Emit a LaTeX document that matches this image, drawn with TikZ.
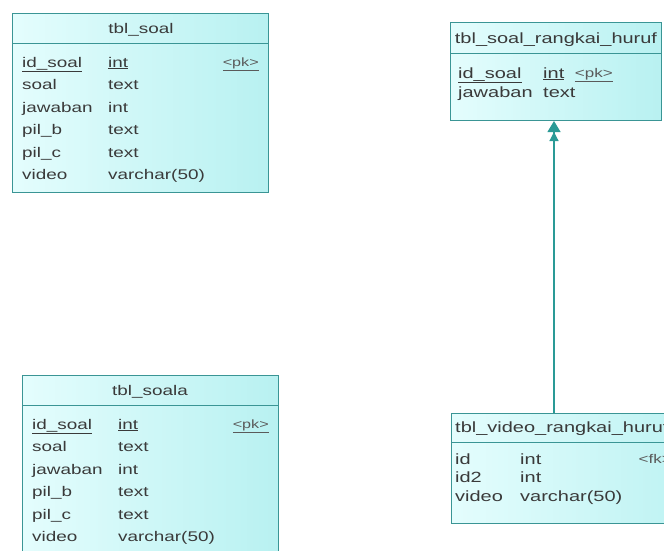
\documentclass[tikz,border=0pt]{standalone}
\usepackage{fontspec}
\setmainfont{Liberation Sans}[FakeStretch=1.35]
\usetikzlibrary{arrows.meta}
\definecolor{bordc}{HTML}{3A9595}
\definecolor{linec}{HTML}{2A9A96}
\definecolor{fillL}{HTML}{E4FDFD}
\definecolor{fillR}{HTML}{B8F1F1}
\definecolor{txtc}{HTML}{3A3A3A}
\definecolor{pkc}{HTML}{5A5A5A}
\begin{document}
\begin{tikzpicture}[x=1pt,y=-1pt,
  tbox/.style={draw=bordc, line width=1pt, left color=fillL, right color=fillR, anchor=north west, inner sep=0pt},
  sepline/.style={draw=bordc, line width=1pt},
  lab/.style={anchor=base west, inner sep=0pt, text=txtc, font=\fontsize{14}{16}\selectfont},
  labr/.style={anchor=base east, inner sep=0pt, text=pkc, font=\fontsize{12}{14}\selectfont},
  ttl/.style={anchor=base, inner sep=0pt, text=txtc, font=\fontsize{14}{16}\selectfont},
  rlab/.style={lab, font=\fontsize{14.8}{16}\selectfont},
  rlabr/.style={labr, font=\fontsize{12.6}{14}\selectfont},
  rttl/.style={ttl, font=\fontsize{14.8}{16}\selectfont},
  conn/.style={draw=linec, line width=1.2pt, -{Triangle[length=9pt,width=9pt,fill=linec]Triangle[length=11pt,width=13pt,fill=linec]}}
]
\useasboundingbox (0,0) rectangle (664,550);
\clip (0,0) rectangle (664,550);

% ---------- tbl_soal ----------
\node[tbox, minimum width=256pt, minimum height=179pt] (s) at (12,13) {};
\draw[sepline] (12,43) -- (268,43);
\node[ttl] (st) at (141,33) {tbl\_soal};
\node[lab] (s1a) at (22,67) {\underline{id\_soal}};
\node[lab] (s1b) at (108,67) {\underline{int}};
\node[labr] (s1c) at (259,66) {\underline{<pk>}};
\node[lab] (s2a) at (22,89.5) {soal};
\node[lab] (s2b) at (108,89.5) {text};
\node[lab] (s3a) at (22,112) {jawaban};
\node[lab] (s3b) at (108,112) {int};
\node[lab] (s4a) at (22,134.5) {pil\_b};
\node[lab] (s4b) at (108,134.5) {text};
\node[lab] (s5a) at (22,157) {pil\_c};
\node[lab] (s5b) at (108,157) {text};
\node[lab] (s6a) at (22,179.5) {video};
\node[lab] (s6b) at (108,179.5) {varchar(50)};

% ---------- tbl_soala ----------
\node[tbox, minimum width=256pt, minimum height=190pt] (a) at (22,375) {};
\draw[sepline] (22,405) -- (278,405);
\node[ttl] (at) at (150,395) {tbl\_soala};
\node[lab] (a1a) at (32,429) {\underline{id\_soal}};
\node[lab] (a1b) at (118,429) {\underline{int}};
\node[labr] (a1c) at (269,428) {\underline{<pk>}};
\node[lab] (a2a) at (32,451.5) {soal};
\node[lab] (a2b) at (118,451.5) {text};
\node[lab] (a3a) at (32,474) {jawaban};
\node[lab] (a3b) at (118,474) {int};
\node[lab] (a4a) at (32,496.5) {pil\_b};
\node[lab] (a4b) at (118,496.5) {text};
\node[lab] (a5a) at (32,519) {pil\_c};
\node[lab] (a5b) at (118,519) {text};
\node[lab] (a6a) at (32,541.5) {video};
\node[lab] (a6b) at (118,541.5) {varchar(50)};

% ---------- tbl_soal_rangkai_huruf ----------
\node[tbox, minimum width=211pt, minimum height=98pt] (r) at (450,22) {};
\draw[sepline] (450,53) -- (661,53);
\node[rttl] (rt) at (556,43) {tbl\_soal\_rangkai\_huruf};
\node[rlab] (r1a) at (458,78) {\underline{id\_soal}};
\node[rlab] (r1b) at (543,78) {\underline{int}};
\node[rlabr] (r1c) at (613,77) {\underline{<pk>}};
\node[rlab] (r2a) at (458,97) {jawaban};
\node[rlab] (r2b) at (543,97) {text};

% ---------- tbl_video_rangkai_huruf ----------
\node[tbox, minimum width=270pt, minimum height=110pt] (v) at (451,413) {};
\draw[sepline] (451,442) -- (721,442);
\node[rlab] (vt) at (455,432) {tbl\_video\_rangkai\_huruf};
\node[rlab] (v1a) at (455,464) {id};
\node[rlab] (v1b) at (520,464) {int};
\node[rlabr] (v1c) at (672,463) {<fk>};
\node[rlab] (v2a) at (455,482) {id2};
\node[rlab] (v2b) at (520,482) {int};
\node[rlab] (v3a) at (455,501) {video};
\node[rlab] (v3b) at (520,501) {varchar(50)};

% ---------- reference ----------
\coordinate (xl) at (554,0);
\draw[conn] (v.north -| xl) -- (r.south -| xl);
\end{tikzpicture}
\end{document}
